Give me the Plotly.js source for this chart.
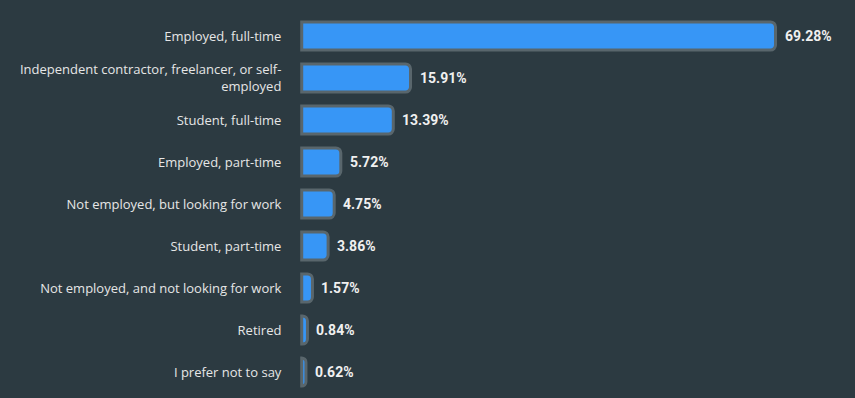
<!DOCTYPE html>
<html>
<head>
<meta charset="utf-8">
<script src="https://cdn.plot.ly/plotly-3.0.1.min.js"></script>
<style>
html,body{margin:0;padding:0;background:#2c3a41;}
#chart{width:855px;height:398px;}
</style>
</head>
<body>
<div id="chart"></div>
<script>
const categories = [
  "Employed, full-time",
  "Independent contractor, freelancer, or self-<br>employed",
  "Student, full-time",
  "Employed, part-time",
  "Not employed, but looking for work",
  "Student, part-time",
  "Not employed, and not looking for work",
  "Retired",
  "I prefer not to say"
];
const values = [69.28, 15.91, 13.39, 5.72, 4.75, 3.86, 1.57, 0.84, 0.62];
const valueLabels = values.map(v => v.toFixed(2) + "%");

const trace = {
  type: "bar",
  orientation: "h",
  x: values,
  y: categories,
  marker: {
    color: "#3796f6",
    line: {color: "#59666c", width: 3},
    cornerradius: 5
  },
  hoverinfo: "none"
};

const annotations = categories.map((c, i) => ({
  x: values[i],
  y: c,
  xref: "x",
  yref: "y",
  text: valueLabels[i],
  showarrow: false,
  xanchor: "left",
  xshift: 7,
  font: {family: "Roboto, 'DejaVu Sans', sans-serif", size: 14, color: "#f0f0f0", weight: "bold"}
}));

const layout = {
  width: 855,
  height: 398,
  paper_bgcolor: "#2c3a41",
  plot_bgcolor: "#2c3a41",
  margin: {l: 300, r: 0, t: 15, b: 5},
  bargap: 0.33,
  showlegend: false,
  annotations: annotations,
  xaxis: {
    range: [-0.25, 80.9],
    visible: false,
    showgrid: false,
    zeroline: false
  },
  yaxis: {
    autorange: "reversed",
    showgrid: false,
    zeroline: false,
    showline: false,
    ticks: "outside",
    ticklen: 15,
    tickcolor: "rgba(0,0,0,0)",
    tickfont: {family: "'Open Sans', 'Noto Sans', sans-serif", size: 13, color: "#e6e6e6"}
  }
};

Plotly.newPlot("chart", [trace], layout, {displayModeBar: false, staticPlot: true});
</script>
</body>
</html>
